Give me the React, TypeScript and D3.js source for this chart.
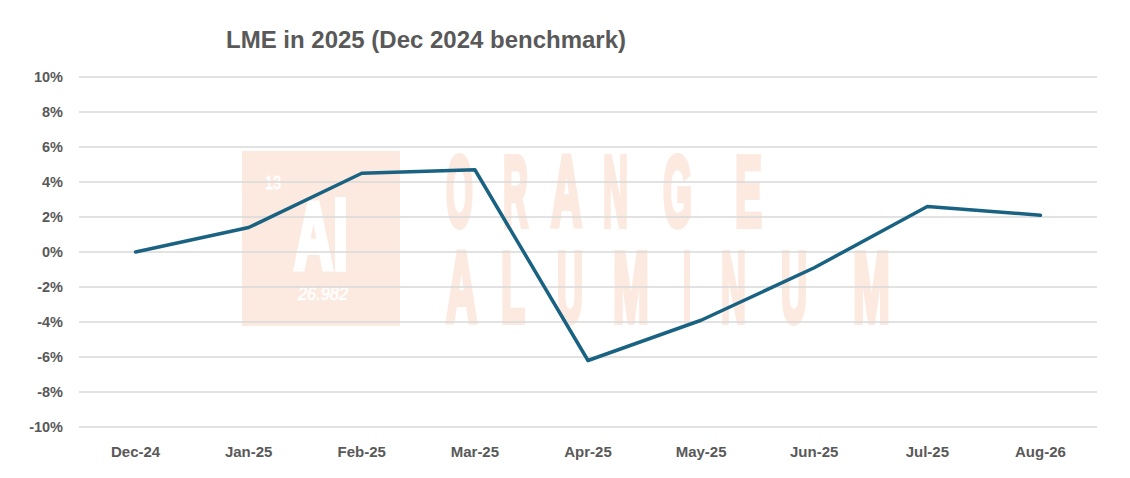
import React from "react";
import * as d3 from "d3";

const categories = ["Dec-24", "Jan-25", "Feb-25", "Mar-25", "Apr-25", "May-25", "Jun-25", "Jul-25", "Aug-26"];
const values = [0.0, 1.4, 4.5, 4.7, -6.2, -3.9, -0.9, 2.6, 2.1];
const yTicks = [10, 8, 6, 4, 2, 0, -2, -4, -6, -8, -10];
const title = "LME in 2025 (Dec 2024 benchmark)";

const W = 1130;
const H = 478;
const M = { left: 79, right: 1097, top: 77, bottom: 427 };

const wmLetters1 = [
  { c: "O", x: 446, w: 27 },
  { c: "R", x: 503, w: 25 },
  { c: "A", x: 551, w: 31 },
  { c: "N", x: 603, w: 25 },
  { c: "G", x: 663, w: 29 },
  { c: "E", x: 735, w: 27 },
];
const wmLetters2 = [
  { c: "A", x: 446, w: 31 },
  { c: "L", x: 501, w: 24 },
  { c: "U", x: 557, w: 26 },
  { c: "M", x: 613, w: 36 },
  { c: "I", x: 683, w: 8 },
  { c: "N", x: 721, w: 25 },
  { c: "U", x: 781, w: 26 },
  { c: "M", x: 853, w: 37 },
];

export default function App() {
  const x = d3.scalePoint<string>().domain(categories).range([M.left, M.right]).padding(0.5);
  const y = d3.scaleLinear().domain([-10, 10]).range([M.bottom, M.top]);
  const line = d3
    .line<number>()
    .x((_, i) => x(categories[i]) as number)
    .y((d) => y(d));

  const wmColor = "#fce9df";
  const grey = "#595959";
  const narrow = "Liberation Sans Narrow, Liberation Sans";

  return (
    <svg width={W} height={H} style={{ position: "absolute", left: 0, top: 0, background: "#fff" }}>
      <rect x={0} y={0} width={W} height={H} fill="#fff" />
      {/* watermark */}
      <g>
        <rect x={242} y={151} width={158} height={175} fill={wmColor} />
        <text x={265} y={189} fill="#fff" stroke="#fff" strokeWidth={0.8} fontFamily={narrow} fontSize={18} textLength={16} lengthAdjust="spacingAndGlyphs">13</text>
        <text x={294} y={269} fill="#fff" stroke="#fff" strokeWidth={6} strokeLinejoin="miter" fontFamily={narrow} fontWeight="bold" fontSize={94} textLength={54} lengthAdjust="spacingAndGlyphs">Al</text>
        <text x={298} y={300} fill="#fff" stroke="#fff" strokeWidth={0.6} fontFamily={narrow} fontStyle="italic" fontSize={19} textLength={50} lengthAdjust="spacingAndGlyphs">26.982</text>
        {wmLetters1.map((l, i) => (
          <text key={"a" + i} x={l.x} y={226} fill={wmColor} stroke={wmColor} strokeWidth={6} strokeLinejoin="miter" fontFamily={narrow} fontWeight="bold" fontSize={100} textLength={l.w} lengthAdjust="spacingAndGlyphs">{l.c}</text>
        ))}
        {wmLetters2.map((l, i) => (
          <text key={"b" + i} x={l.x} y={322} fill={wmColor} stroke={wmColor} strokeWidth={6} strokeLinejoin="miter" fontFamily={narrow} fontWeight="bold" fontSize={100} textLength={l.w} lengthAdjust="spacingAndGlyphs">{l.c}</text>
        ))}
      </g>
      {/* gridlines */}
      {yTicks.map((t) => (
        <line key={t} x1={M.left} x2={M.right} y1={y(t)} y2={y(t)} stroke="#d9d9d9" strokeWidth={1.5} />
      ))}
      {/* y labels */}
      {yTicks.map((t) => (
        <text key={"l" + t} x={63} y={y(t) + 5} textAnchor="end" fill={grey} fontFamily="Liberation Sans, Arial" fontWeight="bold" fontSize={14.5}>
          {t + "%"}
        </text>
      ))}
      {/* x labels */}
      {categories.map((c) => (
        <text key={c} x={x(c)} y={457} textAnchor="middle" fill={grey} fontFamily={narrow} fontWeight="bold" fontSize={15}>
          {c}
        </text>
      ))}
      {/* line */}
      <path d={line(values) || ""} fill="none" stroke="#1a6282" strokeWidth={3.5} strokeLinejoin="round" strokeLinecap="round" />
      {/* title */}
      <text x={226} y={48} fill={grey} fontFamily="Liberation Sans, Arial" fontWeight="bold" fontSize={23} textLength={400} lengthAdjust="spacingAndGlyphs">
        {title}
      </text>
    </svg>
  );
}
